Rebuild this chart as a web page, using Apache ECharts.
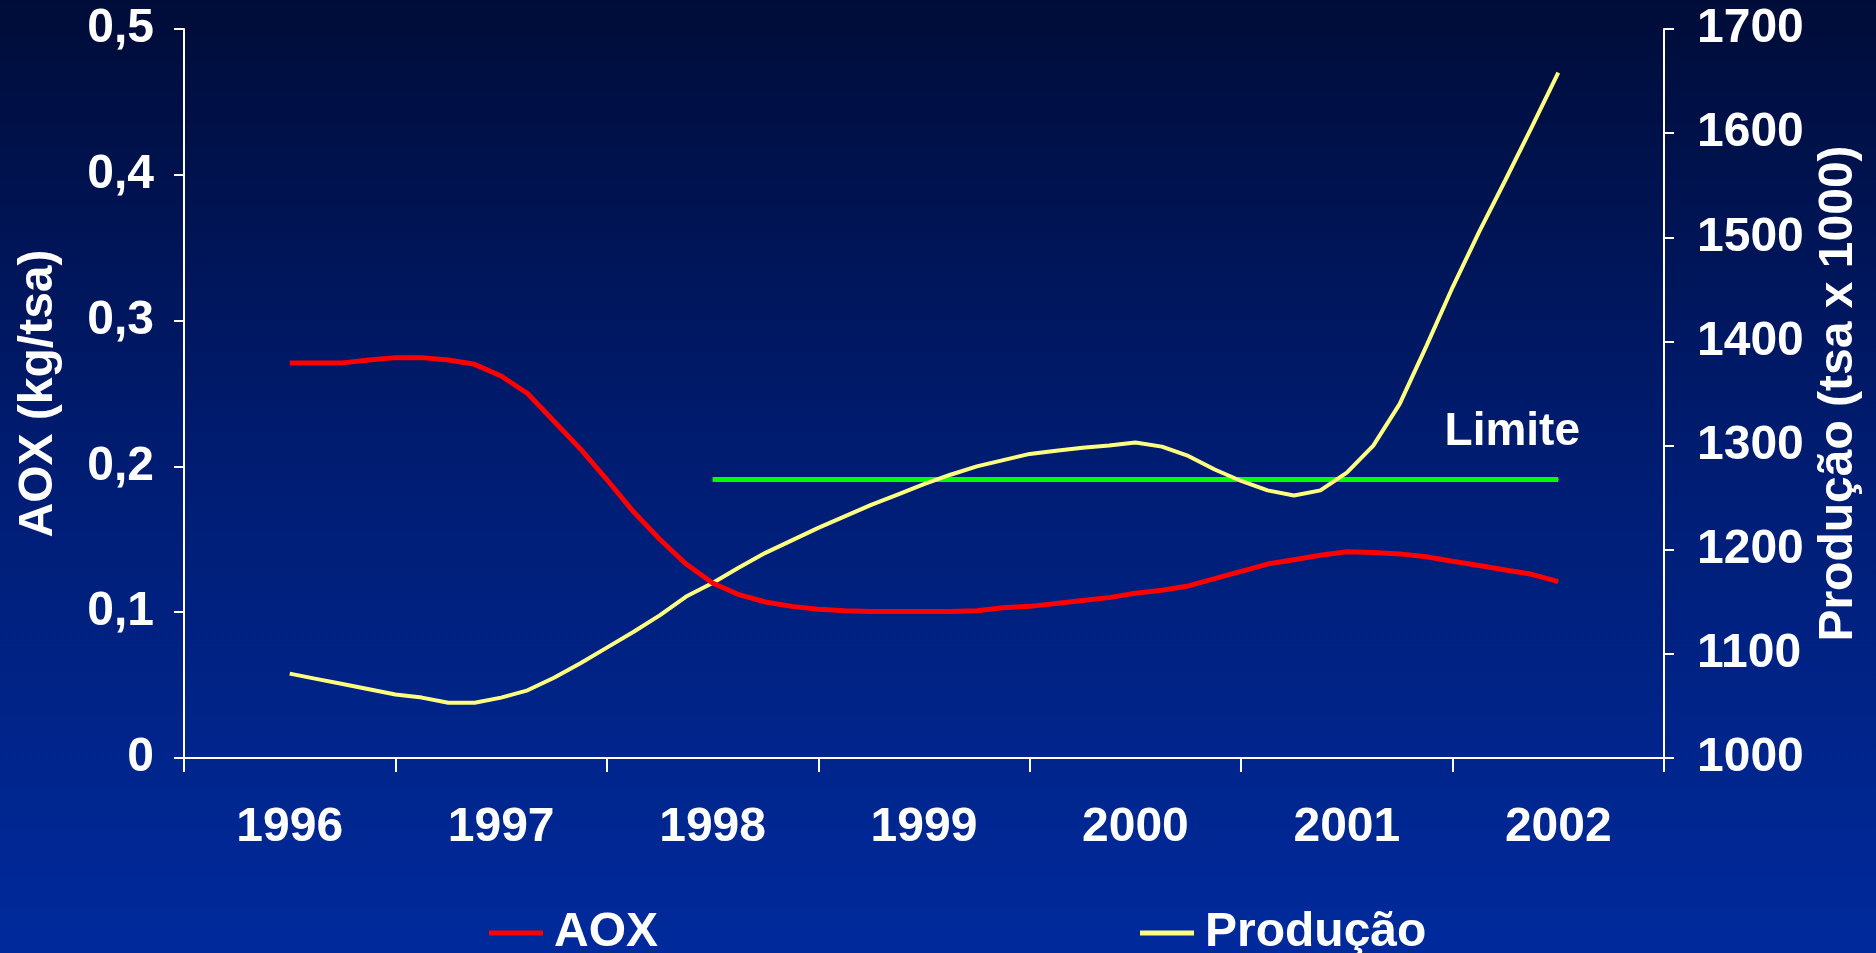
<!DOCTYPE html>
<html>
<head>
<meta charset="utf-8">
<script src="https://cdn.jsdelivr.net/npm/echarts@6/dist/echarts.min.js"></script>
<style>
  html, body { margin: 0; padding: 0; }
  #chart { width: 1876px; height: 953px; }
</style>
</head>
<body>
<div id="chart"></div>
<script>
// eixo x: anos (categorias) e tempo fracionado dos pontos
const YEARS = ['1996', '1997', '1998', '1999', '2000', '2001', '2002']
const T = [
  1996.000, 1996.125, 1996.250, 1996.375, 1996.500, 1996.625, 1996.750, 1996.875,
  1997.000, 1997.125, 1997.250, 1997.375, 1997.500, 1997.625, 1997.750, 1997.875,
  1998.000, 1998.125, 1998.250, 1998.375, 1998.500, 1998.625, 1998.750, 1998.875,
  1999.000, 1999.125, 1999.250, 1999.375, 1999.500, 1999.625, 1999.750, 1999.875,
  2000.000, 2000.125, 2000.250, 2000.375, 2000.500, 2000.625, 2000.750, 2000.875,
  2001.000, 2001.125, 2001.250, 2001.375, 2001.500, 2001.625, 2001.750, 2001.875,
  2002.000,
]
// AOX (kg/tsa)
const AOX = [
  0.271, 0.271, 0.271, 0.273, 0.2746, 0.2746, 0.273, 0.270,
  0.262, 0.250, 0.231, 0.212, 0.191, 0.169, 0.150, 0.133,
  0.120, 0.112, 0.107, 0.104, 0.102, 0.101, 0.1005, 0.1004,
  0.1004, 0.1004, 0.101, 0.103, 0.104, 0.106, 0.108, 0.110,
  0.113, 0.115, 0.118, 0.123, 0.128, 0.133, 0.136, 0.139,
  0.1414, 0.141, 0.140, 0.138, 0.135, 0.132, 0.129, 0.126,
  0.121,
]
// Produção (tsa x 1000)
const PROD = [
  1081, 1076, 1071, 1066, 1061, 1058, 1053, 1053,
  1058, 1065, 1077, 1091, 1106, 1121, 1137, 1155,
  1168, 1183, 1197, 1209, 1221, 1232, 1243, 1253,
  1263, 1272, 1280, 1286, 1292, 1295, 1298, 1300,
  1303, 1299, 1290, 1277, 1266, 1257, 1252, 1257,
  1274, 1300, 1340, 1395, 1452, 1505, 1555, 1606,
  1658,
]
// limite de AOX
const LIMIT_T = [1998, 2002]
const LIMIT = 0.191

const AOX_TICKS = { min: 0, max: 0.5, interval: 0.1 }
const PROD_TICKS = { min: 1000, max: 1700, interval: 100 }

const NARROW = "'Liberation Sans Narrow', 'Arial Narrow', 'Liberation Sans', Arial, sans-serif"
const WIDE = "'Liberation Sans', Arial, sans-serif"
const WHITE = '#ffffff'

const axisLine = { show: true, lineStyle: { color: WHITE, width: 2 } }
const tickLabel = { color: WHITE, fontFamily: NARROW, fontWeight: 'bold', fontSize: 48 }

const chart = echarts.init(document.getElementById('chart'))

chart.setOption({
  animation: false,
  backgroundColor: {
    type: 'linear', x: 0, y: 0, x2: 0, y2: 1,
    colorStops: [
      { offset: 0, color: '#000c38' },
      { offset: 0.5, color: '#001d74' },
      { offset: 1, color: '#002a9c' },
    ],
  },
  grid: { left: 184, right: 212, top: 29, bottom: 195, containLabel: false, outerBoundsMode: 'none' },
  legend: [
    {
      data: ['AOX'], left: 484, top: 904, icon: 'rect',
      itemWidth: 54, itemHeight: 5, itemGap: 0,
      textStyle: { ...tickLabel, padding: [0, 0, 0, 6] },
    },
    {
      data: ['Produção'], left: 1135, top: 904, icon: 'rect',
      itemWidth: 54, itemHeight: 5, itemGap: 0,
      textStyle: { ...tickLabel, padding: [0, 0, 0, 6] },
    },
  ],
  xAxis: [
    {
      type: 'category',
      data: YEARS,
      boundaryGap: true,
      axisLine,
      axisTick: { show: true, length: 14, interval: 0, lineStyle: { color: WHITE, width: 2 } },
      axisLabel: { ...tickLabel, margin: 46, interval: 0 },
      splitLine: { show: false },
    },
    { type: 'value', min: 1995.5, max: 2002.5, show: false },
  ],
  yAxis: [
    {
      type: 'value', ...AOX_TICKS,
      name: 'AOX (kg/tsa)', nameLocation: 'middle', nameGap: 121,
      nameTextStyle: { color: WHITE, fontFamily: WIDE, fontWeight: 'bold', fontSize: 48 },
      axisLine,
      axisTick: { show: true, length: 10, lineStyle: { color: WHITE, width: 2 } },
      axisLabel: { ...tickLabel, margin: 30, formatter: (v) => (v === 0 ? '0' : v.toFixed(1).replace('.', ',')) },
      splitLine: { show: false },
    },
    {
      type: 'value', ...PROD_TICKS, position: 'right',
      name: 'Produção (tsa x 1000)', nameLocation: 'middle', nameGap: 150,
      nameTextStyle: { color: WHITE, fontFamily: WIDE, fontWeight: 'bold', fontSize: 48 },
      axisLine,
      axisTick: { show: true, length: 10, lineStyle: { color: WHITE, width: 2 } },
      axisLabel: { ...tickLabel, margin: 33, formatter: (v) => String(v) },
      splitLine: { show: false },
    },
  ],
  series: [
    {
      name: 'Limite',
      type: 'line',
      xAxisIndex: 1, yAxisIndex: 0,
      data: LIMIT_T.map((t, i) => {
        if (i < LIMIT_T.length - 1) return { value: [t, LIMIT], symbol: 'none' }
        return {
          value: [t, LIMIT],
          symbol: 'circle',
          symbolSize: 1,
          label: {
            show: true, formatter: 'Limite', position: 'top', distance: 24, offset: [-46, 0],
            color: WHITE, fontFamily: NARROW, fontWeight: 'bold', fontSize: 46,
          },
        }
      }),
      lineStyle: { color: '#00ff00', width: 5 },
      itemStyle: { color: '#00ff00' },
      silent: true,
      z: 1,
    },
    {
      name: 'AOX',
      type: 'line',
      xAxisIndex: 1, yAxisIndex: 0,
      data: T.map((t, i) => [t, AOX[i]]),
      symbol: 'none',
      lineStyle: { color: '#ff0000', width: 5 },
      itemStyle: { color: '#ff0000' },
      z: 3,
    },
    {
      name: 'Produção',
      type: 'line',
      xAxisIndex: 1, yAxisIndex: 1,
      data: T.map((t, i) => [t, PROD[i]]),
      symbol: 'none',
      lineStyle: { color: '#ffff80', width: 4 },
      itemStyle: { color: '#ffff80' },
      z: 2,
    },
  ],
})
</script>
</body>
</html>
